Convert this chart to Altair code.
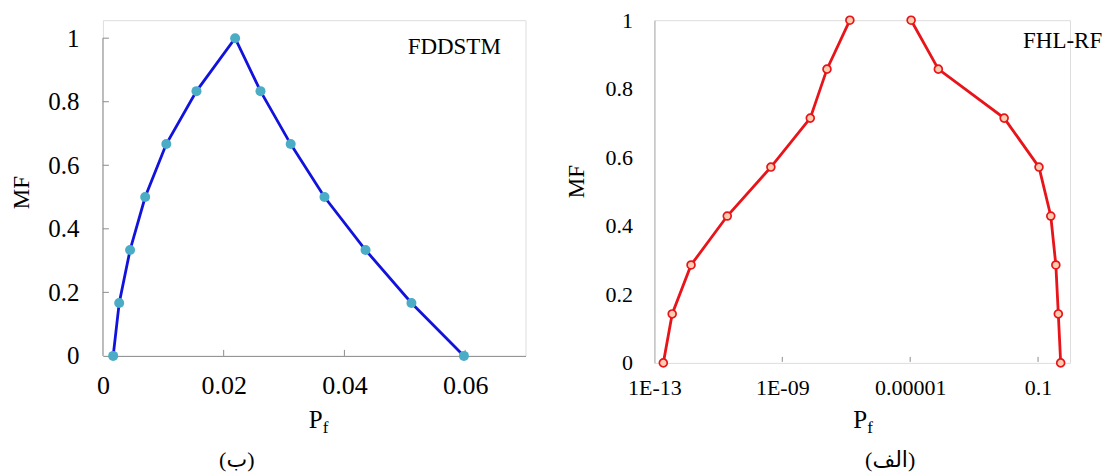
import altair as alt
import pandas as pd
import math

# ---- data ----
left_pf = [0.0017, 0.0027, 0.0045, 0.0070, 0.0105, 0.0155, 0.0219,
           0.0261, 0.0311, 0.0367, 0.0435, 0.0511, 0.0598]
left_mf = [0, 1/6, 2/6, 3/6, 4/6, 5/6, 1, 5/6, 4/6, 3/6, 2/6, 1/6, 0]

right_mf = [0, 1/7, 2/7, 3/7, 4/7, 5/7, 6/7, 1]
right_lo = [1.9e-13, 3.6e-13, 1.4e-12, 1.9e-11, 4.4e-10, 7.5e-9, 2.5e-8, 1.3e-7]
right_hi = [0.51, 0.43, 0.36, 0.25, 0.107, 8.7e-3, 7.6e-5, 1.07e-5]

left_xticks = [0, 0.02, 0.04, 0.06]
mf_ticks = [0, 0.2, 0.4, 0.6, 0.8, 1]
right_xticks = [1e-13, 1e-9, 1e-5, 0.1]
right_xlabels = ["1E-13", "1E-09", "0.00001", "0.1"]

FONT = "Liberation Serif"
ARFONT = "Liberation Serif, DejaVu Sans"
GREY = "#8c8c8c"


def txt(s, x, y, size, align="left", baseline="alphabetic", font=FONT):
    return alt.Chart(pd.DataFrame({"t": [s]})).mark_text(
        font=font, fontSize=size, align=align, baseline=baseline, color="black"
    ).encode(x=alt.value(x), y=alt.value(y), text="t:N")


# ---- left panel ----
LW, LH = 423, 336
LTOP = 1 + 18 / 318  # extra headroom so both panels share the same top edge
ldf = pd.DataFrame({"pf": left_pf, "mf": left_mf, "o": list(range(len(left_pf)))})

lx = alt.X("pf:Q", scale=alt.Scale(domain=[0, 0.07], nice=False, zero=False),
           axis=alt.Axis(values=left_xticks, format="~g", ticks=False, grid=False,
                         labelFlush=False, domainColor=GREY, labelFont=FONT,
                         labelFontSize=26, labelColor="black", labelPadding=17,
                         title=None))
ly = alt.Y("mf:Q", scale=alt.Scale(domain=[0, LTOP], nice=False),
           axis=alt.Axis(values=mf_ticks, format="~g", ticks=False, grid=False,
                         domain=False, labelFont=FONT, labelFontSize=25,
                         labelColor="black", labelPadding=24, title="MF",
                         titleFont=FONT, titleFontSize=23, titleFontWeight="normal",
                         titleColor="black", titlePadding=14, titleY=172))

lline = alt.Chart(ldf).mark_line(color="#1212dd", strokeWidth=2.8).encode(
    x=lx, y=ly, order="o:Q")
lpts = alt.Chart(ldf).mark_circle(color="#4bacc6", size=100, opacity=1).encode(
    x="pf:Q", y="mf:Q")
lydom = alt.Chart(pd.DataFrame({"a": [0], "b": [1]})).mark_rule(color=GREY).encode(
    y="a:Q", y2="b:Q", x=alt.value(0))
lyt = alt.Chart(pd.DataFrame({"v": mf_ticks[1:]})).mark_rule(color=GREY).encode(
    y="v:Q", x=alt.value(0), x2=alt.value(6))
lxt = alt.Chart(pd.DataFrame({"v": left_xticks[1:]})).mark_rule(color=GREY).encode(
    x="v:Q", y=alt.value(LH), y2=alt.value(LH - 6))

left = alt.layer(
    lydom, lyt, lxt, lline, lpts,
    txt("FDDSTM", 305, 34, 23),
    txt("P", 220, 408, 25, align="right"),
    txt("f", 220, 413, 17),
    txt("(ب)", 134, 440, 22, align="center", baseline="middle", font=ARFONT),
).properties(width=LW, height=LH)

# ---- right panel ----
RW, RH = 416, 343
rows = []
for i, (m, v) in enumerate(zip(right_mf, right_lo)):
    rows.append({"pf": v, "mf": m, "b": "lo", "o": i})
for i, (m, v) in enumerate(zip(right_mf, right_hi)):
    rows.append({"pf": v, "mf": m, "b": "hi", "o": i})
rdf = pd.DataFrame(rows)

lab_expr = " : ".join(
    [f"abs(log(datum.value)/log(10) - ({math.log10(v):.0f})) < 0.01 ? '{l}'"
     for v, l in zip(right_xticks, right_xlabels)]) + " : ''"

rx = alt.X("pf:Q", scale=alt.Scale(type="log", domain=[1e-13, 1], nice=False),
           axis=alt.Axis(values=right_xticks, labelExpr=lab_expr, ticks=False,
                         grid=False, domain=False, labelFlush=False, labelFont=FONT,
                         labelFontSize=22, labelColor="black", labelPadding=15,
                         title=None))
ry = alt.Y("mf:Q", scale=alt.Scale(domain=[0, 1], nice=False),
           axis=alt.Axis(values=mf_ticks, format="~g", ticks=False, grid=False,
                         domainColor="#b0b0b0", labelFont=FONT, labelFontSize=22,
                         labelColor="black", labelPadding=22, title="MF",
                         titleFont=FONT, titleFontSize=23, titleFontWeight="normal",
                         titleColor="black", titlePadding=16, titleY=161))

rline = alt.Chart(rdf).mark_line(color="#e8141a", strokeWidth=2.8).encode(
    x=rx, y=ry, detail="b:N", order="o:Q")
rpts = alt.Chart(rdf).mark_point(shape="circle", filled=True, fill="#fccdae",
                                 stroke="#e8141a", strokeWidth=1.7, size=62,
                                 opacity=1).encode(x="pf:Q", y="mf:Q")
rxt = alt.Chart(pd.DataFrame({"v": right_xticks[1:]})).mark_rule(color=GREY).encode(
    x="v:Q", y=alt.value(RH - 6), y2=alt.value(RH - 1))

right = alt.layer(
    rxt, rline, rpts,
    txt("FHL-RF", 369, 28, 23),
    txt("P", 213, RH + 65, 25, align="right"),
    txt("f", 213, RH + 70, 17),
    txt("(الف)", 236, RH + 97, 22, align="center", baseline="middle", font=ARFONT),
).properties(width=RW, height=RH)

chart = alt.hconcat(left, right, spacing=39).properties(
    padding={"left": 2, "top": 0, "right": 0, "bottom": 0}
).configure_view(stroke=None).configure(background="white")

chart.save("out.html", embed_options={"renderer": "svg", "actions": False})
